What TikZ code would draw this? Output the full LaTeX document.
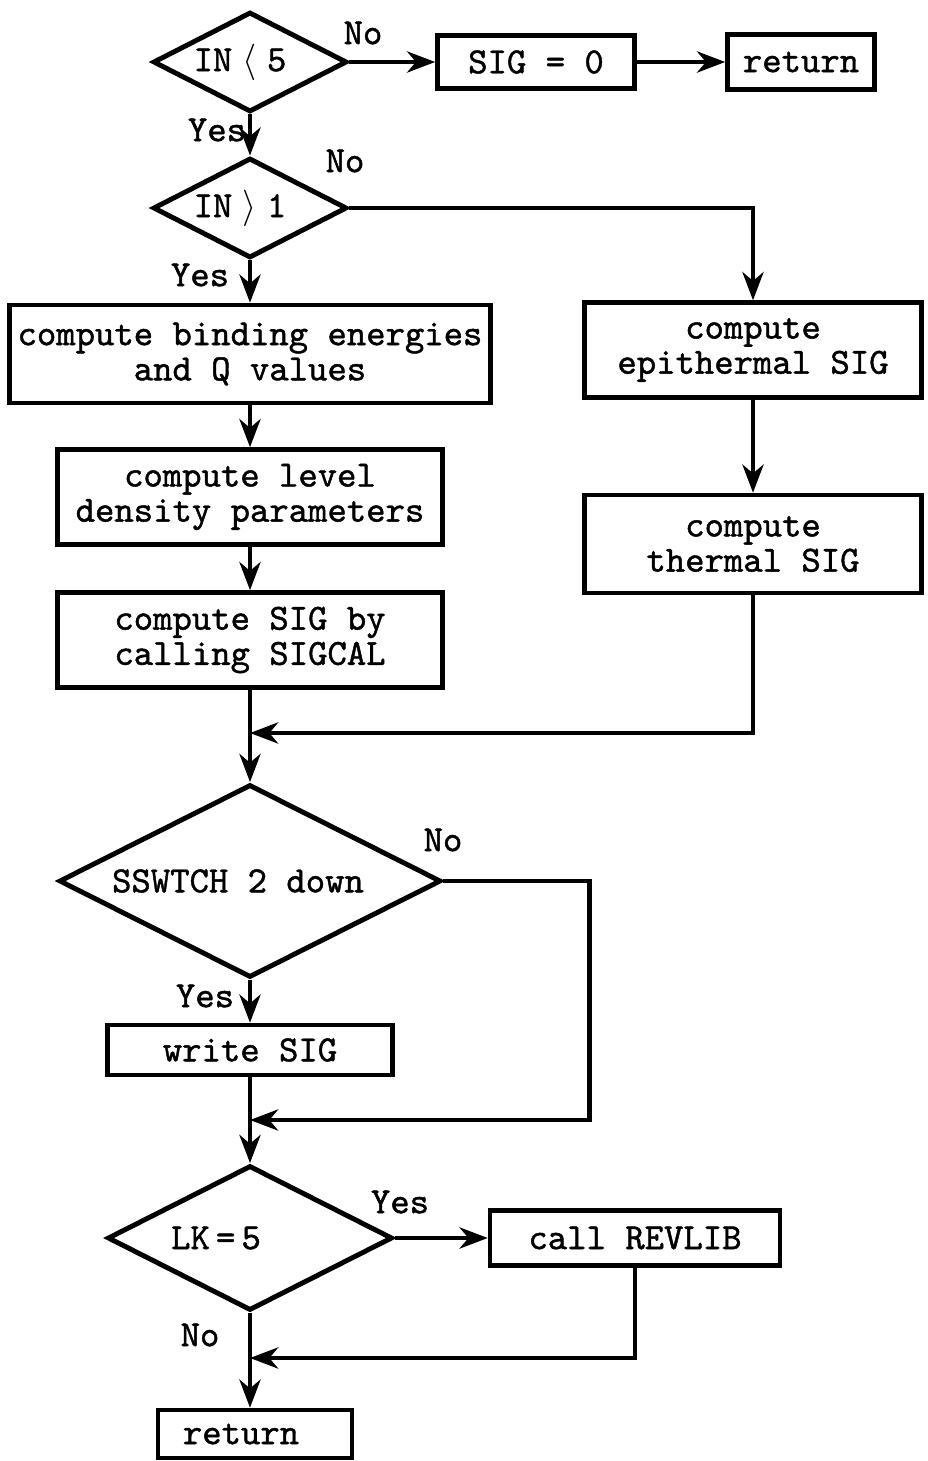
\documentclass[tikz,border=0pt]{standalone}
\usepackage{fontspec}
\setmonofont{lmmono10-regular}[Extension=.otf,FakeBold=1.2]
\usetikzlibrary{shapes.geometric,arrows.meta}

\begin{document}
\begin{tikzpicture}[x=0.02cm,y=-0.02cm,
  font={\fontsize{21}{20}\selectfont\ttfamily},
  box/.style={draw,line width=2.6pt,rectangle,align=center,inner sep=2pt},
  test/.style={draw,line width=2.8pt,diamond,aspect=2,inner sep=0pt},
  flow/.style={line width=2.6pt,-{Stealth[length=16pt,width=12pt,inset=5pt]}},
  lbl/.style={inner sep=0pt}]

\useasboundingbox (0,0) rectangle (927,1461);

% tests on IN
\node[test,minimum width=3.88cm,minimum height=2cm] (in5) at (250,62) {\hspace*{-0.4cm}IN\;$\langle$\;5};
\node[box,minimum width=3.94cm,minimum height=1.06cm] (sig0) at (536,62) {SIG = 0};
\node[box,minimum width=2.94cm,minimum height=1.1cm] (ret1) at (801,62) {return};
\node[test,minimum width=3.88cm,minimum height=2cm] (in1) at (250,208) {\hspace*{-0.4cm}IN\;$\rangle$\;1};

% left branch
\node[box,minimum width=9.62cm,minimum height=1.96cm] (bind) at (250,354) {compute binding energies\\and Q values};
\node[box,minimum width=7.7cm,minimum height=1.9cm] (level) at (250,497) {compute level\\density parameters};
\node[box,minimum width=7.7cm,minimum height=1.9cm] (sigcal) at (250,640) {compute SIG by\\calling SIGCAL};

% right branch
\node[box,minimum width=6.74cm,minimum height=1.9cm] (epi) at (753,350) {compute\\epithermal SIG};
\node[box,minimum width=6.74cm,minimum height=1.96cm] (therm) at (753,544) {compute\\thermal SIG};

% output and library
\node[test,minimum width=7.64cm,minimum height=3.86cm] (sw) at (250,881) {\hspace*{-0.48cm}SSWTCH 2 down};
\node[box,minimum width=5.7cm,minimum height=1cm] (write) at (250,1050) {write SIG};
\node[test,minimum width=5.7cm,minimum height=2.9cm] (lk) at (250,1238) {\hspace*{-1.36cm}LK\,=\,5};
\node[box,minimum width=5.8cm,minimum height=1.1cm] (revlib) at (635,1238) {call REVLIB};
\node[box,minimum width=3.88cm,minimum height=0.96cm] (ret2) at (255,1434) {\hspace*{-0.56cm}return};

\coordinate (m1) at (250,733);
\coordinate (m2) at (250,1120);
\coordinate (m3) at (250,1358);

% branch labels
\node[lbl] (no1) at (363,33) {No};
\node[lbl] (yes1) at (217,130) {Yes};
\node[lbl] (no2) at (345,161) {No};
\node[lbl] (yes2) at (200,275) {Yes};
\node[lbl] (no3) at (443,840) {No};
\node[lbl] (yes3) at (205,996) {Yes};
\node[lbl] (yes4) at (400,1202) {Yes};
\node[lbl] (no4) at (200,1335) {No};

\draw[flow] (in5) -- (sig0);
\draw[flow] (sig0) -- (ret1);
\draw[flow] (in5) -- (in1);
\draw[flow] (in1) -- (bind);
\draw[flow] (in1.east) -| (epi.north);
\draw[flow] (bind) -- (level);
\draw[flow] (level) -- (sigcal);
\draw[flow] (epi) -- (therm);
\draw[flow] (sigcal) -- (sw);
\draw[flow] (therm.south) |- (m1);
\draw[flow] (sw) -- (write);
\draw[flow] (write) -- (lk);
\draw[flow] (sw.east) -- ++(146,0) |- (m2);
\draw[flow] (lk) -- (revlib);
\draw[flow] (revlib.south) |- (m3);
\draw[flow] (lk.south) -- (lk.south |- ret2.north);

\end{tikzpicture}
\end{document}
